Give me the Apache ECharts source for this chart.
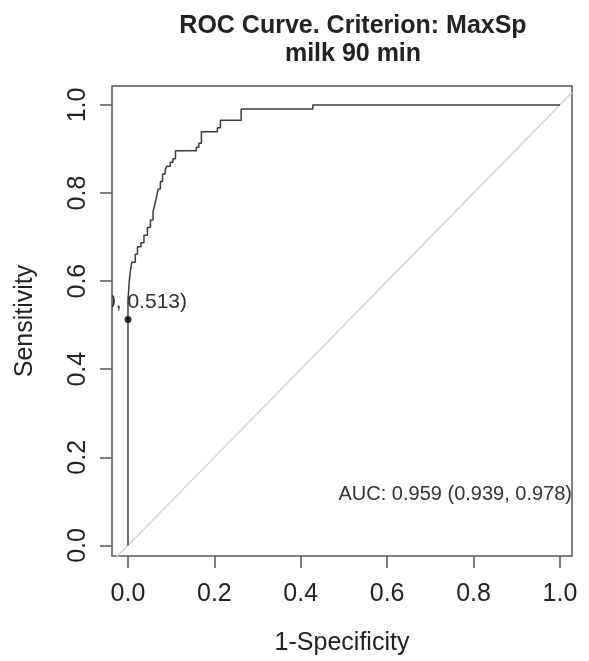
<!DOCTYPE html>
<html>
<head>
<meta charset="utf-8">
<script src="https://cdn.jsdelivr.net/npm/echarts@6/dist/echarts.min.js"></script>
<style>
  html, body { margin: 0; padding: 0; background: #fff; }
  #chart { width: 589px; height: 661px; }
</style>
</head>
<body>
<div id="chart"></div>
<script>
// Empirical ROC staircase: false positive rate (1-Specificity) and sensitivity
const fpr = [0, 0, 0, 0.003, 0.003, 0.006, 0.006, 0.009, 0.009, 0.017, 0.017, 0.022, 0.022,
  0.030, 0.030, 0.037, 0.037, 0.045, 0.045, 0.052, 0.052, 0.058, 0.058, 0.062, 0.062,
  0.066, 0.066, 0.070, 0.070, 0.075, 0.075, 0.080, 0.080, 0.086, 0.086, 0.090, 0.090,
  0.098, 0.098, 0.104, 0.104, 0.110, 0.110, 0.158, 0.158, 0.164, 0.164, 0.170, 0.170,
  0.207, 0.207, 0.214, 0.214, 0.262, 0.262, 0.428, 0.428, 1.0];
const tpr = [0, 0.513, 0.557, 0.557, 0.600, 0.600, 0.626, 0.626, 0.643, 0.643, 0.661, 0.661, 0.678,
  0.678, 0.687, 0.687, 0.704, 0.704, 0.722, 0.722, 0.739, 0.739, 0.757, 0.757, 0.774,
  0.774, 0.791, 0.791, 0.809, 0.809, 0.826, 0.826, 0.843, 0.843, 0.852, 0.852, 0.861,
  0.861, 0.870, 0.870, 0.878, 0.878, 0.896, 0.896, 0.904, 0.904, 0.913, 0.913, 0.939,
  0.939, 0.948, 0.948, 0.965, 0.965, 0.991, 0.991, 1.0, 1.0];

// Optimal cutpoint (MaxSp criterion)
const cutFpr = 0;
const cutTpr = 0.513;

// Area under the curve with its confidence interval
const auc = 0.959;
const aucLow = 0.939;
const aucHigh = 0.978;

const tickValues = [0, 0.2, 0.4, 0.6, 0.8, 1.0];
const xRange = [-0.037, 1.028];
const yRange = [-0.024, 1.043];

const titleLines = ['ROC Curve. Criterion: MaxSp', 'milk 90 min'];
const xName = '1-Specificity';
const yName = 'Sensitivity';

const FONT = '"Liberation Sans", Arial, sans-serif';
const INK = '#222';
const FRAME = '#555';

const curve = fpr.map((x, i) => [x, tpr[i]]);
const chanceLine = [[xRange[0], xRange[0]], [xRange[1], xRange[1]]];
const cutLabel = '(' + cutFpr + ', ' + cutTpr.toFixed(3) + ')';
const aucLabel = 'AUC: ' + auc.toFixed(3) + ' (' + aucLow.toFixed(3) + ', ' + aucHigh.toFixed(3) + ')';

const chart = echarts.init(document.getElementById('chart'), null, { renderer: 'canvas' });

chart.setOption({
  animation: false,
  backgroundColor: '#fff',
  title: {
    text: titleLines.join('\n'),
    left: 348,
    top: 7,
    textAlign: 'center',
    textStyle: { fontFamily: FONT, fontWeight: 'bold', fontSize: 25, lineHeight: 28, color: INK }
  },
  grid: {
    left: 112, top: 86, right: 17, bottom: 103,
    show: true, borderColor: FRAME, borderWidth: 1.5, backgroundColor: 'transparent'
  },
  xAxis: {
    type: 'value',
    min: xRange[0], max: xRange[1],
    splitLine: { show: false },
    axisLine: { show: false, onZero: false },
    axisTick: { show: true, inside: false, length: 12, lineStyle: { color: FRAME, width: 1.5 }, customValues: tickValues },
    axisLabel: {
      customValues: tickValues, margin: 26,
      formatter: v => v.toFixed(1),
      fontFamily: FONT, fontSize: 25, color: INK
    },
    name: xName, nameLocation: 'middle', nameGap: 75,
    nameTextStyle: { fontFamily: FONT, fontSize: 25, color: INK }
  },
  yAxis: {
    type: 'value',
    min: yRange[0], max: yRange[1],
    splitLine: { show: false },
    axisLine: { show: false, onZero: false },
    axisTick: { show: true, inside: false, length: 12, lineStyle: { color: FRAME, width: 1.5 }, customValues: tickValues },
    axisLabel: {
      customValues: tickValues, margin: 21, rotate: 90,
      formatter: v => v.toFixed(1),
      fontFamily: FONT, fontSize: 25, color: INK
    },
    name: yName, nameLocation: 'middle', nameGap: 74,
    nameTextStyle: { fontFamily: FONT, fontSize: 25, color: INK }
  },
  graphic: [{
    type: 'text',
    right: 17,
    top: 484,
    style: { text: aucLabel, font: '20px ' + FONT, fill: '#333' }
  }],
  series: [
    {
      type: 'line',
      data: chanceLine,
      symbol: 'none',
      silent: true,
      clip: true,
      lineStyle: { color: '#d6d6d6', width: 1.5 },
      z: 1
    },
    {
      type: 'line',
      data: curve,
      symbol: 'none',
      silent: true,
      clip: true,
      lineStyle: { color: '#3c3c3c', width: 1.5 },
      z: 2
    },
    {
      type: 'scatter',
      data: [[cutFpr, cutTpr]],
      symbol: 'circle',
      symbolSize: 7,
      itemStyle: { color: '#000' },
      z: 3
    },
    {
      type: 'custom',
      clip: true,
      data: [[cutFpr, cutTpr]],
      renderItem: function (params, api) {
        const p = api.coord([api.value(0), api.value(1)]);
        return {
          type: 'text',
          x: p[0] + 59,
          y: p[1] - 17,
          style: {
            text: cutLabel,
            font: '21px ' + FONT,
            fill: '#333',
            align: 'right',
            verticalAlign: 'middle'
          }
        };
      },
      z: 4
    }
  ]
});
</script>
</body>
</html>
